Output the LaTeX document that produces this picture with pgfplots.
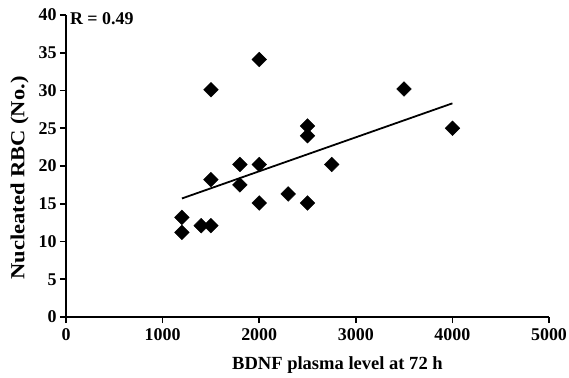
\documentclass[border=0pt]{standalone}
\usepackage{graphicx}
\usepackage{pgfplots}
\pgfplotsset{compat=1.18}
\usepackage{fontspec}
\setmainfont{Liberation Serif}
\begin{document}
\begin{tikzpicture}
\begin{axis}[
  scale only axis,
  width=483bp, height=302bp,
  xmin=0, xmax=5000, ymin=0, ymax=40,
  axis lines=left,
  axis line style={line width=2pt, -},
  xtick={0,1000,2000,3000,4000,5000},
  ytick={0,5,10,15,20,25,30,35,40},
  tick style={line width=1.6pt, black},
  tick align=outside,
  major tick length=6bp,
  scaled x ticks=false,
  /pgf/number format/assume math mode=true,
  /pgf/number format/set thousands separator={},
  tick label style={font=\fontsize{18}{20}\selectfont\bfseries},
  xticklabel style={yshift=-2bp},
  xlabel={\fontsize{18.6}{20}\selectfont\bfseries BDNF plasma level at 72 h},
  ylabel={\fontsize{20}{22}\selectfont\bfseries\scalebox{1.13}[1]{Nucleated RBC (No.)}},
  xlabel style={at={(ticklabel cs:0.562)}, anchor=near ticklabel, yshift=-9bp},
  ylabel style={at={(ticklabel cs:0.46)}, anchor=near ticklabel, yshift=3bp},
  clip=false,
]
\addplot[only marks, mark=square*, mark size=5.2bp, mark options={rotate=45}, black] coordinates {
(1200,13.2) (1200,11.2) (1400,12.1) (1500,12.1) (1500,18.2) (1500,30.1)
(1800,20.2) (1800,17.5) (2000,34.1) (2000,20.2) (2000,15.1) (2300,16.3)
(2500,25.3) (2500,24.0) (2500,15.1) (2750,20.2) (3500,30.2) (4000,25.0)
};
\addplot[black, line width=1.8pt] coordinates {(1200,15.7) (4000,28.3)};
\node[anchor=north west, font=\fontsize{18}{20}\selectfont\bfseries, inner sep=0pt] at (axis cs:40,40.3) {R = 0.49};
\end{axis}
\pgfresetboundingbox
\path (-66bp,-61bp) rectangle (503bp,317bp);
\end{tikzpicture}
\end{document}
